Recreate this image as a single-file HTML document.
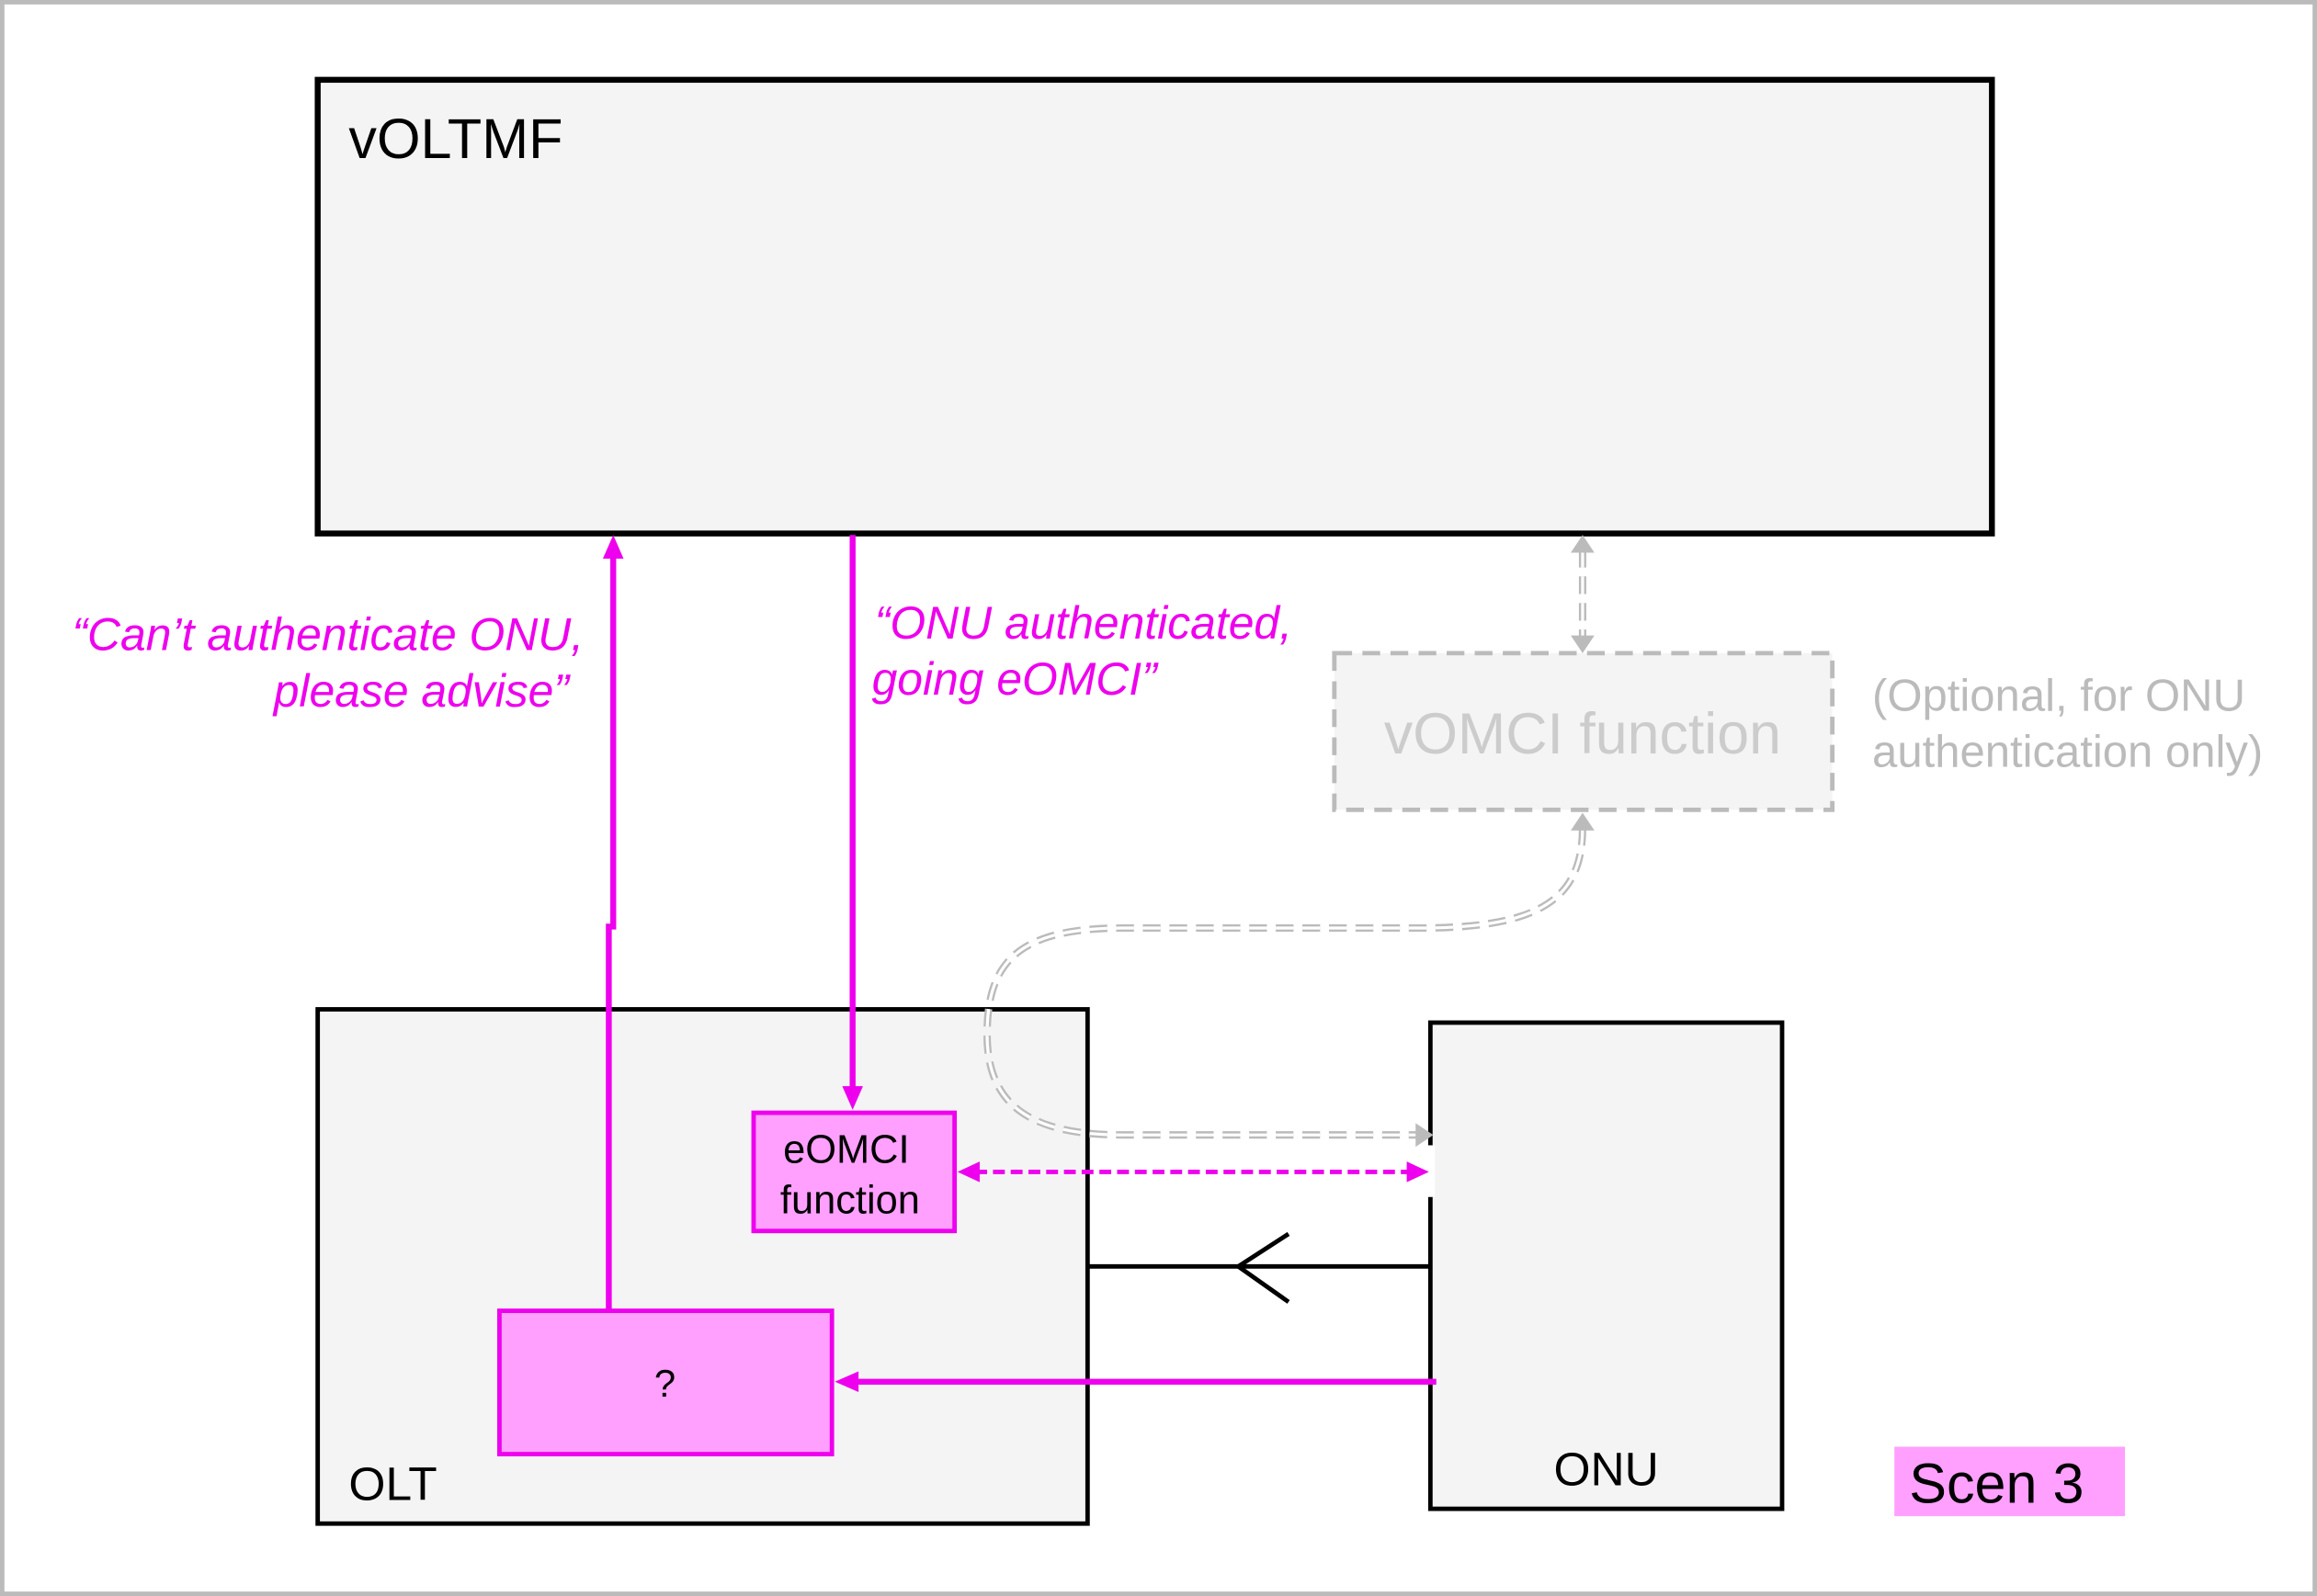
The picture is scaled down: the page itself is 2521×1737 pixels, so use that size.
<!DOCTYPE html>
<html><head><meta charset="utf-8"><style>
html,body{margin:0;padding:0;background:#fff;}
svg{display:block;}
text{font-family:"Liberation Sans",Arial,sans-serif;}
</style></head><body>
<svg width="2521" height="1737" viewBox="0 0 1568 1080" preserveAspectRatio="none" xmlns="http://www.w3.org/2000/svg">
<rect x="1.5" y="1.5" width="1565" height="1077" fill="#fff" stroke="#bbb" stroke-width="3"/>
<rect x="215" y="54" width="1133" height="307" fill="#f4f4f4" stroke="#000" stroke-width="4"/>
<text x="236" y="107" font-size="38">vOLTMF</text>
<rect x="215" y="683" width="521" height="348" fill="#f4f4f4" stroke="#000" stroke-width="3"/>
<text x="236" y="1015" font-size="32">OLT</text>
<rect x="968" y="692" width="238" height="329" fill="#f4f4f4" stroke="#000" stroke-width="3"/>
<text x="1087" y="1005" font-size="32" text-anchor="middle">ONU</text>
<rect x="903" y="442" width="337" height="106" fill="#f4f4f4" stroke="#bbb" stroke-width="3" stroke-dasharray="12,7"/>
<text x="1071" y="510" font-size="39" fill="#ccc" text-anchor="middle">vOMCI function</text>
<text x="1267" y="481" font-size="30.5" fill="#bbb">(Optional, for ONU</text>
<text x="1267" y="519" font-size="30.5" fill="#bbb">authentication only)</text>
<rect x="1282" y="979" width="156" height="47" fill="#ffa0ff"/>
<text x="1292" y="1017" font-size="38">Scen 3</text>
<g fill="none" stroke-dasharray="12,6">
<path d="M1071,372 L1071,432" stroke="#bbb" stroke-width="5"/>
<path d="M1071,372 L1071,432" stroke="#fff" stroke-width="2"/>
<path d="M1071,560 C1071,610 1040,628 960,628 L760,628 C690,628 668,650 668,700 C668,750 700,768 760,768 L960,768" stroke="#bbb" stroke-width="5"/>
<path d="M1071,560 C1071,610 1040,628 960,628 L760,628 C690,628 668,650 668,700 C668,750 700,768 760,768 L960,768" stroke="#fff" stroke-width="2"/>
</g>
<path d="M1063,374 L1071,362 L1079,374z" fill="#bbb"/>
<path d="M1063,430 L1071,442 L1079,430z" fill="#bbb"/>
<path d="M1063,562 L1071,550 L1079,562z" fill="#bbb"/>
<path d="M958,760 L970,768 L958,776z" fill="#bbb"/>
<rect x="966" y="775" width="5" height="35" fill="#fff"/>
<rect x="510" y="753" width="136" height="80" fill="#ffa0ff" stroke="#ee00ee" stroke-width="3"/>
<text x="530" y="787" font-size="27">eOMCI</text>
<text x="528" y="821" font-size="27">function</text>
<rect x="338" y="887" width="225" height="97" fill="#ffa0ff" stroke="#ee00ee" stroke-width="3"/>
<text x="450" y="945" font-size="26" text-anchor="middle">?</text>
<path d="M412,887 L412,627 L415,627 L415,375" fill="none" stroke="#ee00ee" stroke-width="4"/>
<path d="M408,378 L415,362 L422,378z" fill="#ee00ee"/>
<path d="M577,362 L577,738" fill="none" stroke="#ee00ee" stroke-width="4"/>
<path d="M570,735 L577,751 L584,735z" fill="#ee00ee"/>
<path d="M660,793 L955,793" fill="none" stroke="#ee00ee" stroke-width="3" stroke-dasharray="8,4"/>
<path d="M663,786 L648,793 L663,800z" fill="#ee00ee"/>
<path d="M952,786 L967,793 L952,800z" fill="#ee00ee"/>
<path d="M972,935 L578,935" fill="none" stroke="#ee00ee" stroke-width="4"/>
<path d="M581,928 L565,935 L581,942z" fill="#ee00ee"/>
<g font-size="31" font-style="italic" fill="#ee00ee">
<text x="395" y="440" text-anchor="end">“Can’t authenticate ONU,</text>
<text x="385" y="478" text-anchor="end">please advise”</text>
<text x="592" y="432">“ONU authenticated,</text>
<text x="590" y="470">going eOMCI”</text>
</g>
<path d="M736,857 L968,857" stroke="#000" stroke-width="3"/>
<path d="M872,835 L838,857 L872,881" fill="none" stroke="#000" stroke-width="3"/>
</svg>
</body></html>
